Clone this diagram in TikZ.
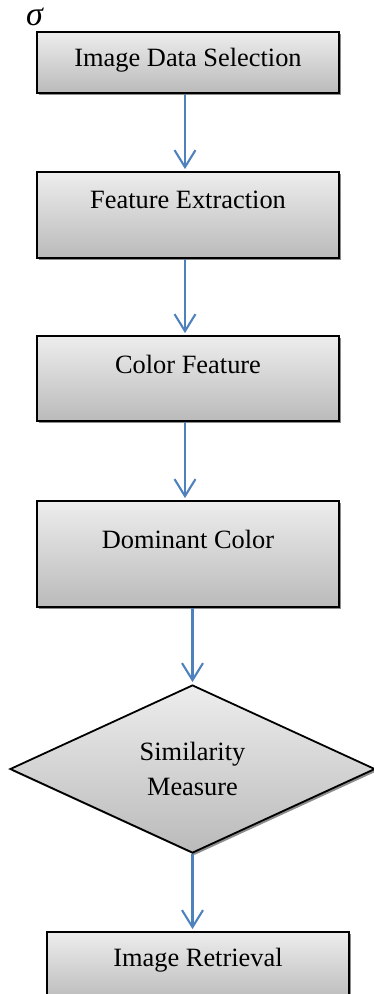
\documentclass[tikz,border=0pt]{standalone}
\usepackage{fontspec}
\setmainfont{Liberation Serif}
\usetikzlibrary{shapes.geometric,arrows.meta,shadows}
\definecolor{arrowblue}{HTML}{4F81BD}
\begin{document}
\begin{tikzpicture}[x=0.5pt,y=-0.5pt,
  every node/.style={font=\fontsize{13.2pt}{17.5pt}\selectfont},
  boxfill/.style={draw=black, line width=0.9pt, top color=black!7, bottom color=black!27,
    drop shadow={shadow xshift=1.1pt, shadow yshift=-1.1pt, fill=black!45, opacity=1}},
  procbox/.style={rectangle, boxfill, minimum width=151pt, inner sep=0pt},
  decision/.style={diamond, boxfill, minimum width=182.5pt, minimum height=84pt, inner sep=0pt, align=center},
  boxtext/.style={anchor=center, yshift=-14.5pt},
  arr/.style={draw=arrowblue, line width=1.05pt, -{Straight Barb[length=8.5pt,width=10.5pt]}, shorten >=1pt}
]
\useasboundingbox (0,0) rectangle (374,994);

\node (sig) at (34.5,17) {\fontsize{17pt}{20pt}\selectfont\itshape σ};

\node[procbox, minimum height=30.5pt, label={[boxtext, yshift=0.2pt]north:Image Data Selection}] (b1) at (188,62.5) {};
\node[procbox, minimum height=43pt, label={[boxtext]north:Feature Extraction}] (b2) at (188,215) {};
\node[procbox, minimum height=42.5pt, label={[boxtext]north:Color Feature}] (b3) at (188,378.5) {};
\node[procbox, minimum height=53pt, label={[boxtext, yshift=-5pt]north:Dominant Color}] (b4) at (188,554) {};
\node[decision] (d) at (192.5,769) {Similarity\\Measure};
\node[procbox, minimum height=35pt, label={[boxtext]north:Image Retrieval}] (b6) at (198,967) {};

\draw[arr] ([xshift=-1.5pt]b1.south) -- ([xshift=-1.5pt]b2.north);
\draw[arr] ([xshift=-1.5pt]b2.south) -- ([xshift=-1.5pt]b3.north);
\draw[arr] ([xshift=-1.5pt]b3.south) -- ([xshift=-1.5pt]b4.north);
\draw[arr] (d.north |- b4.south) -- (d.north);
\draw[arr] (d.south) -- (d.south |- b6.north);
\end{tikzpicture}
\end{document}
